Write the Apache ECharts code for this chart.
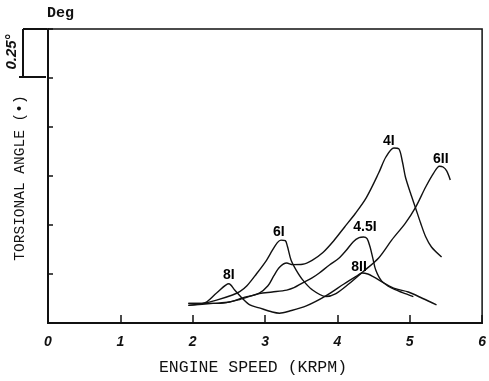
<!DOCTYPE html>
<html>
<head>
<meta charset="utf-8">
<script src="https://cdn.jsdelivr.net/npm/echarts@6/dist/echarts.min.js"></script>
<style>
html,body{margin:0;padding:0;background:#fff;}
#chart{width:489px;height:381px;}
</style>
</head>
<body>
<div id="chart"></div>
<script>
// ---- data (engine speed in krpm, torsional angle in deg) ----
const xTicks = [0, 1, 2, 3, 4, 5, 6];

const speed8 = [1.94, 2.14, 2.33, 2.50, 2.58, 2.68, 2.79, 2.92, 3.10, 3.20, 3.34, 3.57, 3.84, 4.09, 4.27, 4.34, 4.42, 4.50, 4.64, 4.80, 4.98, 5.18, 5.37];
const angle8 = [0.10, 0.10, 0.153, 0.20, 0.168, 0.128, 0.092, 0.077, 0.056, 0.05, 0.061, 0.087, 0.138, 0.199, 0.24, 0.255, 0.25, 0.235, 0.205, 0.175, 0.158, 0.125, 0.092];

const speed6 = [1.94, 2.14, 2.33, 2.55, 2.65, 2.75, 2.88, 3.02, 3.10, 3.17, 3.22, 3.28, 3.31, 3.36, 3.43, 3.52, 3.65, 3.84, 3.98, 4.16, 4.35, 4.57, 4.75, 4.94, 5.08, 5.22, 5.33, 5.41, 5.46, 5.51, 5.56];
const angle6 = [0.09, 0.10, 0.117, 0.143, 0.16, 0.19, 0.25, 0.32, 0.37, 0.41, 0.423, 0.42, 0.39, 0.32, 0.27, 0.22, 0.17, 0.135, 0.15, 0.20, 0.26, 0.332, 0.423, 0.51, 0.59, 0.694, 0.765, 0.80, 0.796, 0.776, 0.73];

const speed45 = [1.94, 2.14, 2.38, 2.65, 2.92, 3.10, 3.30, 3.40, 3.52, 3.65, 3.75, 3.89, 4.02, 4.12, 4.22, 4.30, 4.36, 4.41, 4.45, 4.49, 4.53, 4.61, 4.74, 4.90, 5.05];
const angle45 = [0.10, 0.10, 0.10, 0.12, 0.15, 0.158, 0.168, 0.18, 0.205, 0.23, 0.255, 0.296, 0.33, 0.37, 0.415, 0.435, 0.439, 0.43, 0.39, 0.33, 0.27, 0.215, 0.18, 0.155, 0.135];

const speed4 = [1.94, 2.28, 2.51, 2.69, 2.92, 3.04, 3.12, 3.20, 3.30, 3.38, 3.52, 3.65, 3.80, 3.95, 4.10, 4.25, 4.40, 4.57, 4.67, 4.78, 4.85, 4.90, 4.94, 5.01, 5.08, 5.15, 5.22, 5.30, 5.44];
const angle4 = [0.09, 0.10, 0.107, 0.128, 0.153, 0.19, 0.24, 0.285, 0.306, 0.298, 0.30, 0.32, 0.36, 0.42, 0.49, 0.56, 0.64, 0.765, 0.847, 0.893, 0.888, 0.82, 0.745, 0.663, 0.587, 0.51, 0.44, 0.388, 0.337];

const labelText  = ['8I', '6I', '4.5I', '8II', '4I', '6II'];
const labelSpeed = [2.50, 3.19, 4.38, 4.30, 4.71, 5.43];
const labelAngle = [0.245, 0.464, 0.49, 0.285, 0.93, 0.835];

// ---- build ----
function pairs(xs, ys) { return xs.map((x, i) => [x, ys[i]]); }
const lineStyle = { color: '#111', width: 1.4 };
function curve(name, xs, ys) {
  return { name: name, type: 'line', data: pairs(xs, ys), showSymbol: false, symbol: 'none',
           smooth: 0.3, lineStyle: lineStyle, itemStyle: { color: '#111' }, silent: true, z: 3 };
}

const chart = echarts.init(document.getElementById('chart'), null, { renderer: 'canvas' });
const AX = { color: '#111', width: 2 };
chart.setOption({
  backgroundColor: '#fff',
  animation: false,
  grid: { left: 48, right: 5, top: 29, bottom: 58, show: true, borderColor: '#111', borderWidth: 1.5 },
  xAxis: {
    type: 'value', min: 0, max: 6, interval: 1,
    axisLine: { show: true, lineStyle: AX },
    axisTick: { show: true, inside: true, length: 8, lineStyle: { color: '#111', width: 1.5 } },
    axisLabel: { show: true, margin: 12, color: '#111', fontSize: 14, fontStyle: 'italic', fontWeight: 'bold',
                 fontFamily: 'Liberation Sans, Arial, sans-serif',
                 formatter: v => xTicks.indexOf(v) >= 0 ? String(v) : '' },
    splitLine: { show: false }
  },
  yAxis: {
    type: 'value', min: 0, max: 1.5, interval: 0.25,
    axisLine: { show: true, lineStyle: AX },
    axisTick: { show: true, inside: true, length: 5, lineStyle: { color: '#111', width: 1.5 } },
    axisLabel: { show: false },
    splitLine: { show: false }
  },
  series: [
    curve('8', speed8, angle8),
    curve('6', speed6, angle6),
    curve('4.5', speed45, angle45),
    curve('4', speed4, angle4),
    {
      type: 'scatter', symbolSize: 0, silent: true, z: 5,
      itemStyle: { color: '#000', opacity: 1 },
      data: labelText.map((t, i) => ({ value: [labelSpeed[i], labelAngle[i]], name: t })),
      label: { show: true, position: 'inside', formatter: p => p.name, color: '#000', opacity: 1,
               textBorderWidth: 0, textBorderColor: 'transparent',
               fontSize: 14, fontWeight: 'bold', fontFamily: 'Liberation Sans, Arial, sans-serif' }
    }
  ],
  graphic: [
    { type: 'text', left: 47, top: 6, style: { text: 'Deg', fill: '#111', font: 'bold 15px "Liberation Mono", monospace' } },
    { type: 'line', shape: { x1: 23, y1: 29, x2: 23, y2: 77 }, style: { stroke: '#111', lineWidth: 2 } },
    { type: 'line', shape: { x1: 23, y1: 29, x2: 47, y2: 29 }, style: { stroke: '#111', lineWidth: 2 } },
    { type: 'line', shape: { x1: 19, y1: 77, x2: 46, y2: 77 }, style: { stroke: '#111', lineWidth: 2 } },
    { type: 'text', x: 12, y: 52, rotation: Math.PI / 2,
      style: { text: '0.25°', fill: '#111', font: 'italic bold 15px "Liberation Sans", sans-serif', textAlign: 'center', textVerticalAlign: 'middle' } },
    { type: 'text', x: 20, y: 178, rotation: Math.PI / 2,
      style: { text: 'TORSIONAL ANGLE (•)', fill: '#111', font: '14.5px "Liberation Mono", monospace', textAlign: 'center', textVerticalAlign: 'middle' } },
    { type: 'text', x: 253, y: 368,
      style: { text: 'ENGINE SPEED (KRPM)', fill: '#111', font: '16.5px "Liberation Mono", monospace', textAlign: 'center', textVerticalAlign: 'middle' } }
  ]
});
</script>
</body>
</html>
